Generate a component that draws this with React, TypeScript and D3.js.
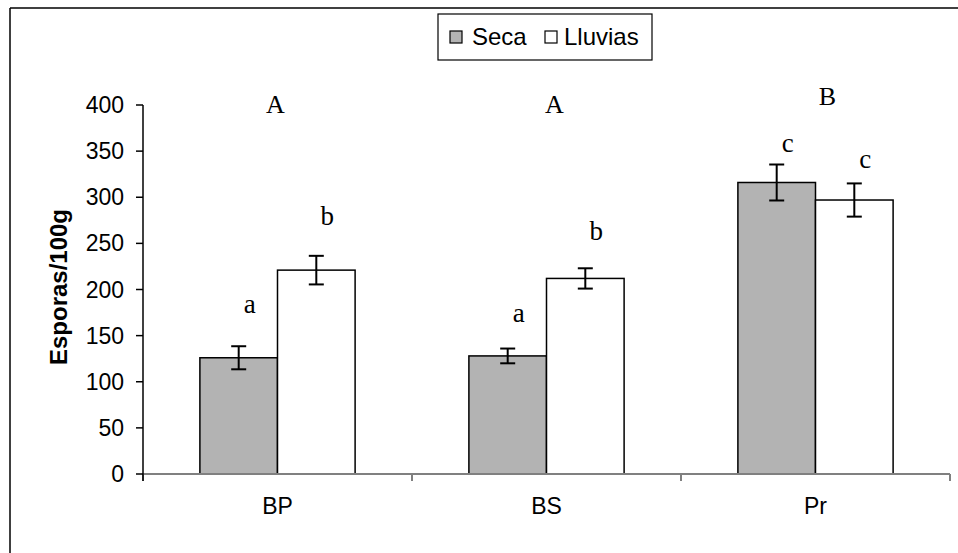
import { scaleBand, scaleLinear } from "d3";

const width = 958;
const height = 553;

const categories = ["BP", "BS", "Pr"];
const series = ["Seca", "Lluvias"];
const seca = [126, 128, 316];
const lluvias = [221, 212, 297];
const secaErr = [12.5, 8, 19.5];
const lluviasErr = [15.5, 11, 18];
const secaLetters = ["a", "a", "c"];
const lluviasLetters = ["b", "b", "c"];
const secaLetterY = [174, 165, 349];
const lluviasLetterY = [270, 254, 332];
const groupLetters = ["A", "A", "B"];
const groupLetterY = [391, 391, 400];
const yTicks = [0, 50, 100, 150, 200, 250, 300, 350, 400];

const fills = ["#b3b3b3", "#ffffff"];
const sans = "Liberation Sans, Arial, sans-serif";
const serif = "Liberation Serif, Times New Roman, serif";
// small horizontal nudges of the group letters, as placed in the original
const groupNudge = [-2, 8, 12];

const x0 = scaleBand().domain(categories).range([143, 950]).paddingInner(0).paddingOuter(0);
const x1 = scaleBand().domain(series).range([0, x0.bandwidth() * 0.577]);
const groupOffset = (x0.bandwidth() - x1.range()[1]) / 2;
const y = scaleLinear().domain([0, 400]).range([474, 105]);

const values = [seca, lluvias];
const errs = [secaErr, lluviasErr];
const letters = [secaLetters, lluviasLetters];
const letterY = [secaLetterY, lluviasLetterY];

const App = () => {
  return (
    <svg
      width={width}
      height={height}
      style={{ position: "fixed", left: 0, top: 0, background: "#fff" }}
    >
      {/* frame */}
      <line x1={10} x2={10} y1={8} y2={height} stroke="#000" strokeWidth={1.5} />
      <line x1={10} x2={width} y1={8} y2={8} stroke="#000" strokeWidth={1.5} />

      {/* bars */}
      {categories.map((c, i) => (
        <g key={c} transform={`translate(${x0(c)! + groupOffset},0)`}>
          {series.map((s, j) => {
            const v = values[j][i];
            const e = errs[j][i];
            const bx = x1(s)!;
            const cx = bx + x1.bandwidth() / 2;
            return (
              <g key={s}>
                <rect
                  x={bx}
                  y={y(v)}
                  width={x1.bandwidth()}
                  height={y(0) - y(v)}
                  fill={fills[j]}
                  stroke="#000"
                  strokeWidth={1.5}
                />
                <g stroke="#000" strokeWidth={2}>
                  <line x1={cx} x2={cx} y1={y(v + e)} y2={y(v - e)} />
                  <line x1={cx - 7.5} x2={cx + 7.5} y1={y(v + e)} y2={y(v + e)} />
                  <line x1={cx - 7.5} x2={cx + 7.5} y1={y(v - e)} y2={y(v - e)} />
                </g>
                <text x={cx + 11} y={y(letterY[j][i])} textAnchor="middle" fontFamily={serif} fontSize={27}>
                  {letters[j][i]}
                </text>
              </g>
            );
          })}
        </g>
      ))}

      {/* group letters */}
      {categories.map((c, i) => (
        <text
          key={c}
          x={x0(c)! + x0.bandwidth() / 2 + groupNudge[i]}
          y={y(groupLetterY[i])}
          textAnchor="middle"
          fontFamily={serif}
          fontSize={26}
        >
          {groupLetters[i]}
        </text>
      ))}

      {/* x axis */}
      <g stroke="#808080" strokeWidth={2}>
        <line x1={143} x2={950} y1={y(0)} y2={y(0)} />
        {categories.map((c) => (
          <line key={c} x1={x0(c)!} x2={x0(c)!} y1={y(0)} y2={y(0) + 7} />
        ))}
        <line x1={950} x2={950} y1={y(0)} y2={y(0) + 7} />
      </g>
      {categories.map((c) => (
        <text key={c} x={x0(c)! + x0.bandwidth() / 2} y={514} textAnchor="middle" fontFamily={sans} fontSize={23}>
          {c}
        </text>
      ))}

      {/* y axis */}
      <line x1={143} x2={143} y1={y(400)} y2={y(0) + 7} stroke="#000" strokeWidth={1.5} />
      {yTicks.map((t) => (
        <g key={t}>
          <line x1={136} x2={143} y1={y(t)} y2={y(t)} stroke="#000" strokeWidth={1.5} />
          <text x={124} y={y(t)} dy="0.35em" textAnchor="end" fontFamily={sans} fontSize={23}>
            {t}
          </text>
        </g>
      ))}
      <text
        transform={`translate(67,287) rotate(-90)`}
        textAnchor="middle"
        fontFamily={sans}
        fontSize={24}
        fontWeight="bold"
      >
        Esporas/100g
      </text>

      {/* legend */}
      <rect x={438} y={14} width={214} height={46} fill="#fff" stroke="#000" strokeWidth={1.2} />
      <rect x={450} y={31} width={12} height={12} fill={fills[0]} stroke="#000" strokeWidth={1.2} />
      <text x={472} y={45} fontFamily={sans} fontSize={24}>
        {series[0]}
      </text>
      <rect x={545} y={31} width={12} height={12} fill={fills[1]} stroke="#000" strokeWidth={1.2} />
      <text x={564} y={45} fontFamily={sans} fontSize={24}>
        {series[1]}
      </text>
    </svg>
  );
};

export default App;
